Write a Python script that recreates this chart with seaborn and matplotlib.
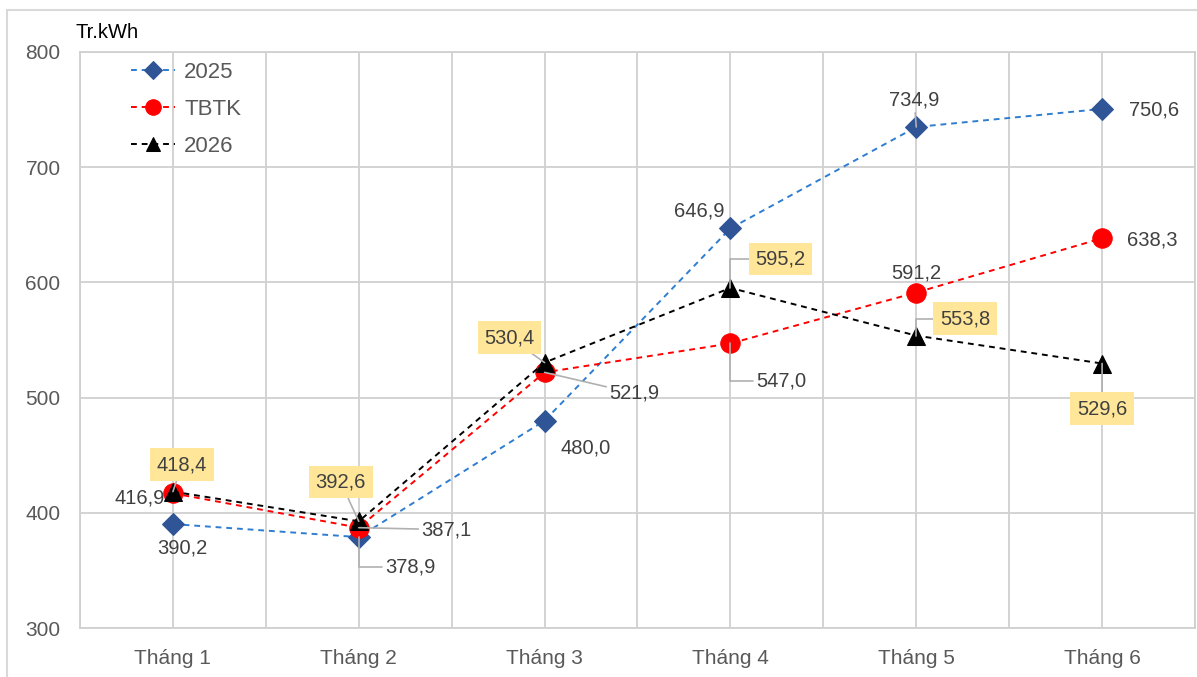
import matplotlib
matplotlib.use("Agg")
import matplotlib.pyplot as plt
from matplotlib.patches import Rectangle
import pandas as pd
import seaborn as sns

# Monthly electricity output (million kWh)
months = ["Tháng 1", "Tháng 2", "Tháng 3", "Tháng 4", "Tháng 5", "Tháng 6"]
series_names = ["2025", "TBTK", "2026"]
values_2025 = [390.2, 378.9, 480.0, 646.9, 734.9, 750.6]
values_tbtk = [416.9, 387.1, 521.9, 547.0, 591.2, 638.3]
values_2026 = [418.4, 392.6, 530.4, 595.2, 553.8, 529.6]
y_ticks = [300, 400, 500, 600, 700, 800]
unit_label = "Tr.kWh"

df = pd.DataFrame({
    "Tháng": months * 3,
    "Giá trị": values_2025 + values_tbtk + values_2026,
    "Chuỗi": [series_names[0]] * 6 + [series_names[1]] * 6 + [series_names[2]] * 6,
})

sns.set_theme(style="white")
plt.rcParams["font.family"] = ["Liberation Sans", "DejaVu Sans"]

W, H = 1197, 677
fig = plt.figure(figsize=(W / 100, H / 100), dpi=100)
ax = fig.add_axes([80 / W, (H - 628) / H, (1195 - 80) / W, (628 - 52) / H])

line_colors = {"2025": "#2E7DD1", "TBTK": "#FF0000", "2026": "#000000"}
marker_face = {"2025": "#2F5597", "TBTK": "#FF0000", "2026": "#000000"}
markers = {"2025": "D", "TBTK": "o", "2026": "^"}
msize = {"2025": 11, "TBTK": 14, "2026": 13}

sns.lineplot(data=df, x="Tháng", y="Giá trị", hue="Chuỗi", style="Chuỗi",
             hue_order=series_names, style_order=series_names,
             palette=line_colors, markers=markers,
             dashes={k: (3, 2.5) for k in series_names},
             linewidth=1.4, ax=ax, legend=False, sort=False)

for ln, name in zip(ax.get_lines(), series_names):
    ln.set_markerfacecolor(marker_face[name])
    ln.set_markeredgecolor(marker_face[name])
    ln.set_markersize(msize[name])
    ln.set_label(name)
    ln.set_zorder({"2025": 3, "TBTK": 4, "2026": 5}[name])

# axes & grid
grid_c = "#D0D0D0"
ax.set_xlim(-0.5, 5.5)
ax.set_ylim(300, 800)
ax.set_yticks(y_ticks)
ax.set_xticks(range(len(months)))
ax.set_xticklabels(months)
ax.set_xticks([i - 0.5 for i in range(len(months) + 1)], minor=True)
ax.grid(True, which="both", axis="x", color=grid_c, linewidth=1.3)
ax.grid(True, which="major", axis="y", color=grid_c, linewidth=1.3)
ax.set_axisbelow(True)
for sp in ax.spines.values():
    sp.set_color(grid_c)
    sp.set_linewidth(1.3)
ax.tick_params(axis="both", which="both", length=0, labelsize=15,
               labelcolor="#595959")
ax.tick_params(axis="x", pad=15)
ax.tick_params(axis="y", pad=14)
ax.set_xlabel("")
ax.set_ylabel("")

fig.text(75 / W, 1 - 33 / H, unit_label, fontsize=14.5, color="#000000",
         va="center", ha="left")

# data labels
lbl_font = dict(fontsize=14.5, color="#404040")
leader = dict(arrowstyle="-", color="#B0B0B0", lw=1.2, shrinkA=0, shrinkB=0)


def fmt(v):
    return f"{v:.1f}".replace(".", ",")


offs_2025 = [(9, -24), (52, -30), (41, -27), (-31, 17), (-2, 27), (52, -1)]
lead_2025 = [False, True, False, False, True, False]
offs_tbtk = [(-33, -5), (88, -2), (90, -21), (51, -38), (0, 20), (50, -2)]
lead_tbtk = [False, True, True, True, False, False]
offs_2026 = [(9, 27), (-18, 39), (-35, 25), (50, 29), (49, 17), (0, -45)]

for i, v in enumerate(values_2025):
    kw = {}
    if lead_2025[i]:
        kw["arrowprops"] = dict(leader, connectionstyle="angle,angleA=0,angleB=90,rad=0") if i == 1 else leader
    ax.annotate(fmt(v), (i, v), xytext=offs_2025[i], textcoords="offset pixels",
                ha="center", va="center", zorder=6, **lbl_font, **kw)

for i, v in enumerate(values_tbtk):
    kw = {}
    if lead_tbtk[i]:
        cs = "angle,angleA=0,angleB=90,rad=0" if i == 3 else "arc3"
        kw["arrowprops"] = dict(leader, connectionstyle=cs)
    ax.annotate(fmt(v), (i, v), xytext=offs_tbtk[i], textcoords="offset pixels",
                ha="center", va="center", zorder=6, **lbl_font, **kw)

for i, v in enumerate(values_2026):
    cs = "angle,angleA=0,angleB=90,rad=0" if i in (3, 4) else "arc3"
    ax.annotate(fmt(v), (i, v), xytext=offs_2026[i], textcoords="offset pixels",
                ha="center", va="center", zorder=7, **lbl_font,
                bbox=dict(boxstyle="square,pad=0.33", facecolor="#FFE699",
                          edgecolor="none"),
                arrowprops=dict(leader, connectionstyle=cs))

# legend
handles = ax.get_lines()[:3]
leg = ax.legend(handles=handles, labels=series_names, loc="upper left",
                bbox_to_anchor=(31 / (1195 - 80), 1 + 10 / (628 - 52)),
                frameon=False, fontsize=16, handlelength=2.0, handletextpad=0.4,
                labelspacing=0.72, numpoints=1, markerscale=0.8)
for t in leg.get_texts():
    t.set_color("#595959")

# outer frame
fig.patches.append(Rectangle((7 / W, -0.05), 1.2, 1.05 - 10 / H,
                             transform=fig.transFigure, fill=False,
                             edgecolor="#D9D9D9", linewidth=1.5, zorder=0))

fig.savefig("out.png", dpi=100)
